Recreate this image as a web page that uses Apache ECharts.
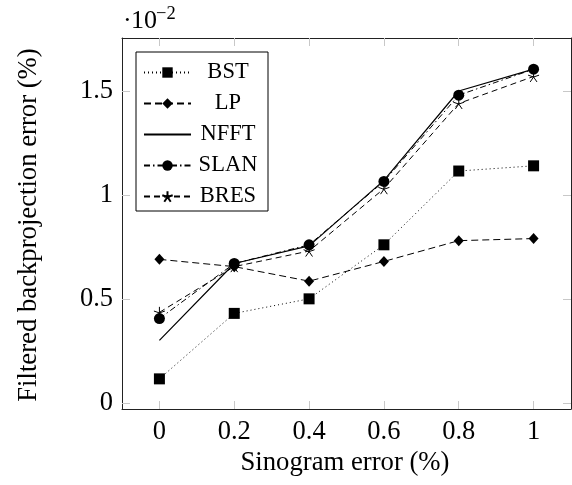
<!DOCTYPE html>
<html><head><meta charset="utf-8">
<script src="https://cdn.jsdelivr.net/npm/echarts@6/dist/echarts.min.js"></script>
<style>html,body{margin:0;padding:0;background:#fff}#c{width:572px;height:485px}</style>
</head><body><div id="c"></div>
<script>
const xValues = [0, 0.2, 0.4, 0.6, 0.8, 1];
const bst  = [0.115, 0.43, 0.50, 0.76, 1.115, 1.14];
const lp   = [0.69, 0.655, 0.585, 0.68, 0.78, 0.79];
const nfft = [0.30, 0.67, 0.755, 1.07, 1.50, 1.605];
const slan = [0.405, 0.67, 0.76, 1.065, 1.48, 1.605];
const bres = [0.435, 0.655, 0.73, 1.03, 1.44, 1.57];
const xTicks = [0, 0.2, 0.4, 0.6, 0.8, 1];
const yTicks = [0, 0.5, 1, 1.5];
const seriesNames = ['BST', 'LP', 'NFFT', 'SLAN', 'BRES'];

const FONT = 'Liberation Serif';
const STAR = 'path://M0,0L0,-5M0,0L-4.76,-1.55M0,0L-2.94,4.05M0,0L2.94,4.05M0,0L4.76,-1.55';
const pairs = arr => xValues.map((x, i) => [x, arr[i]]);

const chart = echarts.init(document.getElementById('c'));
const lineCommon = { show: true, onZero: false, lineStyle: { color: '#222', width: 1 } };
const tickCommon = { show: true, inside: true, length: 8, lineStyle: { color: '#c8c8c8', width: 1 } };
function axis(extra) {
  return Object.assign({ type: 'value', axisLine: lineCommon, splitLine: { show: false } }, extra);
}
chart.setOption({
  animation: false,
  backgroundColor: '#fff',
  grid: { left: 122, right: 1, top: 38, bottom: 76 },
  xAxis: [
    axis({ min: -0.1, max: 1.1, position: 'bottom',
      axisTick: Object.assign({}, tickCommon, { customValues: xTicks }),
      axisLabel: { customValues: xTicks, margin: 10, color: '#000', fontFamily: FONT, fontSize: 26.5,
        formatter: v => String(+v.toFixed(1)) } }),
    axis({ min: -0.1, max: 1.1, position: 'top',
      axisTick: Object.assign({}, tickCommon, { customValues: xTicks }),
      axisLabel: { show: false } })
  ],
  yAxis: [
    axis({ min: -0.03, max: 1.755, position: 'left',
      axisTick: Object.assign({}, tickCommon, { customValues: yTicks }),
      axisLabel: { customValues: yTicks, margin: 9, color: '#000', fontFamily: FONT, fontSize: 26.5,
        formatter: v => String(+v.toFixed(1)) } }),
    axis({ min: -0.03, max: 1.755, position: 'right',
      axisTick: Object.assign({}, tickCommon, { customValues: yTicks }),
      axisLabel: { show: false } })
  ],
  legend: {
    data: ['BST', 'LP', { name: 'NFFT', itemStyle: { color: 'rgba(0,0,0,0)', borderWidth: 0, opacity: 0 } }, 'SLAN', 'BRES'],
    orient: 'vertical', left: 136, top: 52,
    backgroundColor: '#fff',
    borderColor: '#000', borderWidth: 1,
    padding: [9, 8, 3, 7],
    itemWidth: 47, itemHeight: 13, itemGap: 8,
    formatter: n => '{c|' + n + '}',
    textStyle: { color: '#000', fontFamily: FONT, fontSize: 22.5,
      rich: { c: { width: 64, align: 'center', lineHeight: 20, fontFamily: FONT, fontSize: 22.5, color: '#000' } } }
  },
  series: [
    { name: 'BST', type: 'line', data: pairs(bst), symbol: 'rect', symbolSize: 11,
      lineStyle: { color: '#000', width: 1, type: [1, 3] }, itemStyle: { color: '#000' } },
    { name: 'LP', type: 'line', data: pairs(lp), symbol: 'diamond', symbolSize: [10, 11],
      lineStyle: { color: '#000', width: 1, type: [7, 4] }, itemStyle: { color: '#000' } },
    { name: 'NFFT', type: 'line', data: pairs(nfft), symbol: 'none',
      lineStyle: { color: '#000', width: 1.2, type: 'solid' }, itemStyle: { color: '#000' } },
    { name: 'SLAN', type: 'line', data: pairs(slan), symbol: 'circle', symbolSize: 11,
      lineStyle: { color: '#000', width: 1, type: [6, 3, 1.5, 3] }, itemStyle: { color: '#000' } },
    { name: 'BRES', type: 'line', data: pairs(bres), symbol: STAR, symbolSize: 11,
      lineStyle: { color: '#000', width: 1, type: [6, 4] }, itemStyle: { color: '#000', borderColor: '#000', borderWidth: 1 } }
  ],
  graphic: [
    { type: 'text', x: 345, y: 463,
      style: { text: 'Sinogram error (%)', fontFamily: FONT, fontSize: 26.7, fill: '#000', textAlign: 'center', textVerticalAlign: 'middle' } },
    { type: 'text', x: 29, y: 225, rotation: Math.PI / 2,
      style: { text: 'Filtered backprojection error (%)', fontFamily: FONT, fontSize: 26.7, fill: '#000', textAlign: 'center', textVerticalAlign: 'middle' } },
    { type: 'text', x: 123, y: 21,
      style: { text: '·', fontFamily: FONT, fontSize: 26, fill: '#000', textAlign: 'left', textVerticalAlign: 'middle' } },
    { type: 'text', x: 131, y: 21,
      style: { text: '10', fontFamily: FONT, fontSize: 26, fill: '#000', textAlign: 'left', textVerticalAlign: 'middle' } },
    { type: 'text', x: 156, y: 14,
      style: { text: '−2', fontFamily: FONT, fontSize: 18.5, fill: '#000', textAlign: 'left', textVerticalAlign: 'middle' } }
  ]
});
</script></body></html>
